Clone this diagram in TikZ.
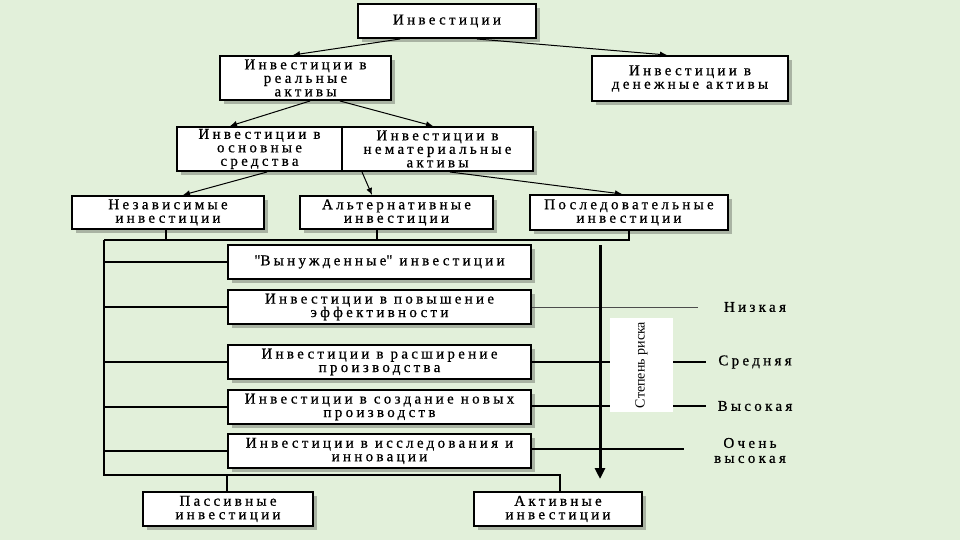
\documentclass[tikz,border=0pt]{standalone}
\usepackage{fontspec}
\setmainfont{Liberation Serif}[LetterSpace=22,FakeBold=0.7]
\newfontfamily\plainfont{Liberation Serif}
\usetikzlibrary{shadows,arrows.meta,calc}
\definecolor{bg}{RGB}{226,240,218}
\begin{document}
\begin{tikzpicture}[x=1pt,y=-1pt,
  box/.style={draw=black, line width=2pt, fill=white, align=center, inner sep=0pt,
    font=\fontsize{15}{13.5}\selectfont,
    drop shadow={shadow xshift=4pt, shadow yshift=-4pt, fill=black, opacity=0.25}},
  conn/.style={line width=1pt, -{Latex[length=7pt,width=6pt]}},
  tree/.style={line width=1.6pt},
  rline/.style={line width=1.3pt},
  lbl/.style={align=center, inner sep=0pt, font=\fontsize{15}{15}\selectfont}]
\fill[bg] (0,0) rectangle (960,540);
\useasboundingbox (0,0) rectangle (960,540);

% boxes
\node[box, minimum width=178pt, minimum height=34pt] (inv) at (447,21) {Инвестиции};
\node[box, minimum width=171pt, minimum height=44pt] (real) at (305.5,78) {Инвестиции в\\реальные\\активы};
\node[box, minimum width=196pt, minimum height=45pt] (money) at (690,78.5) {Инвестиции в\\денежные активы};
\node[box, minimum width=165pt, minimum height=44pt] (osn) at (259.5,149) {Инвестиции в\\основные\\средства};
\node[box, minimum width=191pt, minimum height=44pt] (nemat) at (437.5,149) {Инвестиции в\\нематериальные\\активы};
\node[box, minimum width=192pt, minimum height=33pt] (indep) at (168,212.5) {Независимые\\инвестиции};
\node[box, minimum width=193pt, minimum height=33pt] (alt) at (396.5,212.5) {Альтернативные\\инвестиции};
\node[box, minimum width=198pt, minimum height=35pt] (posl) at (629,212.5) {Последовательные\\инвестиции};
\node[box, minimum width=303pt, minimum height=34pt] (m1) at (379.5,262) {\textquotedbl Вынужденные\textquotedbl{} инвестиции};
\node[box, minimum width=303pt, minimum height=34pt] (m2) at (379.5,307) {Инвестиции в повышение\\эффективности};
\node[box, minimum width=303pt, minimum height=34pt] (m3) at (379.5,362) {Инвестиции в расширение\\производства};
\node[box, minimum width=303pt, minimum height=34pt] (m4) at (379.5,407) {Инвестиции в создание новых\\производств};
\node[box, minimum width=303pt, minimum height=34pt] (m5) at (379.5,451) {Инвестиции в исследования и\\инновации};
\node[box, minimum width=170pt, minimum height=34pt] (pass) at (228,509) {Пассивные\\инвестиции};
\node[box, minimum width=168pt, minimum height=34pt] (act) at (558,509) {Активные\\инвестиции};

% arrows between upper boxes
\draw[conn] ([xshift=-47pt]inv.south) -- ([xshift=-12.5pt]real.north);
\draw[conn] ([xshift=30pt]inv.south) -- ([xshift=-23pt]money.north);
\draw[conn] ([xshift=4.5pt]real.south) -- ([xshift=-29.5pt]osn.north);
\draw[conn] ([xshift=34.5pt]real.south) -- ([xshift=-4.5pt]nemat.north);
\draw[conn] ([xshift=7.5pt]osn.south) -- ([xshift=15pt]indep.north);
\draw[conn] ([xshift=-75.5pt]nemat.south) -- ([xshift=-24.5pt]alt.north);
\draw[conn] ([xshift=12.5pt]nemat.south) -- ([xshift=-7pt]posl.north);

% tree lines
\coordinate (TL) at (104,240);
\coordinate (BL) at (104,475);
\draw[tree] (TL) -- (posl.south |- TL) -- (posl.south);
\draw[tree] ([xshift=-2pt]indep.south) -- ([xshift=-2pt]indep.south |- TL);
\draw[tree] ([xshift=-19.5pt]alt.south) -- ([xshift=-19.5pt]alt.south |- TL);
\draw[tree] (TL) -- (BL) -- ([xshift=2pt]act.north |- BL) -- ([xshift=2pt]act.north);
\draw[tree] ([xshift=-1pt]pass.north |- BL) -- ([xshift=-1pt]pass.north);
\foreach \n in {m1,m2,m3,m4,m5} \draw[tree] (\n.west -| TL) -- (\n.west);

% right lines to risk levels
\draw[line width=0.8pt, black!70] (m2.east) -- ++(166,0);
\draw[rline] (m3.east) -- ++(174,0);
\draw[rline] ([yshift=1pt]m4.east) -- ++(174,0);
\draw[rline] ([yshift=2pt]m5.east) -- ++(152,0);

% risk label box
\node[fill=white, rotate=90, minimum width=94pt, minimum height=63pt, inner sep=0pt,
  font=\plainfont\fontsize{14}{14}\selectfont] (risk) at (641.5,365) {Степень риска};

% risk arrow
\coordinate (rs) at (600,245);
\coordinate (re) at (600,479);
\draw[line width=3pt, -{Triangle[length=11pt,width=10pt]}] (rs) -- (re);

% risk levels
\node[lbl] (low) at (755,307) {Низкая};
\node[lbl] (mid) at (755,362) {Средняя};
\node[lbl] (high) at (755,406) {Высокая};
\node[lbl] (vhigh) at (750,450.5) {Очень\\высокая};
\end{tikzpicture}
\end{document}
